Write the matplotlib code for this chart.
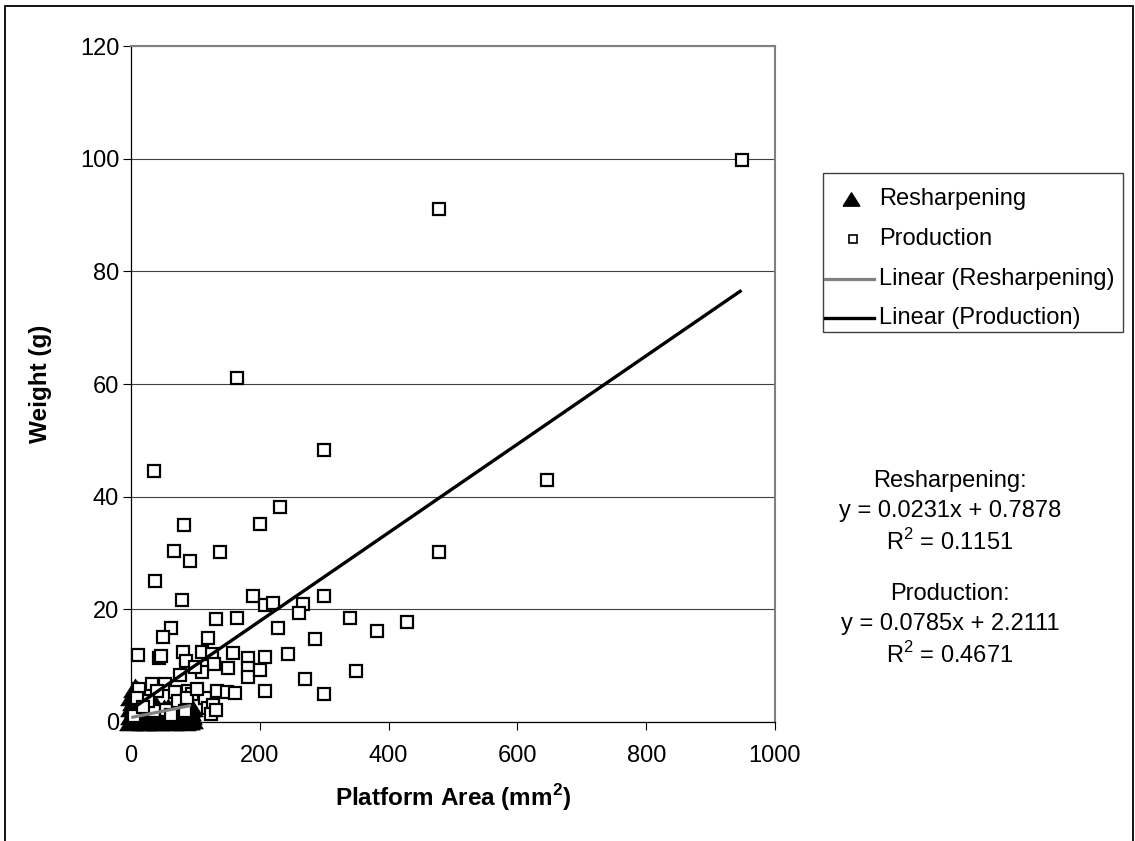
import matplotlib
matplotlib.use('Agg')
import matplotlib.pyplot as plt
import numpy as np
from matplotlib.patches import Rectangle
from matplotlib.lines import Line2D

plt.rcParams['font.family'] = ['Liberation Sans', 'DejaVu Sans']
plt.rcParams['mathtext.fontset'] = 'custom'
plt.rcParams['mathtext.rm'] = 'Liberation Sans'
plt.rcParams['mathtext.bf'] = 'Liberation Sans:bold'

# ---------------- data ----------------
prod_x = [948, 479, 164, 300, 35, 646, 232, 82, 200, 67, 138, 479, 91, 38, 79, 190,
          208, 221, 267, 261, 300, 132, 164, 340, 429, 62, 50, 229, 120, 285, 382,
          350, 270, 300, 11, 44, 46, 80, 111, 85, 126, 129, 159, 150, 182, 182, 182,
          208, 200, 244, 110, 100, 76, 32, 13, 53, 41, 68, 89, 94, 115, 133, 149,
          162, 208, 120, 128, 124, 35, 55, 27, 9, 73, 87, 102, 132, 5, 18, 62, 84]
prod_y = [99.7, 91.0, 61.0, 48.3, 44.6, 43.0, 38.2, 34.9, 35.1, 30.4, 30.1, 30.1, 28.5,
          25.1, 21.7, 22.4, 20.7, 21.1, 21.0, 19.4, 22.4, 18.2, 18.5, 18.5, 17.8, 16.7,
          15.1, 16.7, 15.0, 14.7, 16.1, 9.0, 7.6, 4.9, 11.9, 11.3, 11.7, 12.5, 12.5,
          10.9, 12.0, 10.3, 12.2, 9.5, 11.3, 9.6, 7.9, 11.6, 9.2, 12.0, 8.8, 9.7, 8.4,
          6.7, 5.9, 6.8, 5.5, 5.4, 5.5, 5.0, 4.2, 5.5, 5.4, 5.2, 5.5, 2.4, 3.1, 1.4,
          2.0, 2.2, 3.7, 4.3, 3.7, 4.3, 5.8, 2.2, 1.0, 2.6, 1.2, 2.0]

resh_x = [0.5, 1, 2, 3, 4, 5, 6, 7, 8, 9, 10, 11, 12, 13, 14, 15, 16, 18, 19, 20, 22,
          23, 25, 26, 28, 30, 31, 33, 35, 36, 38, 40, 42, 44, 45, 47, 49, 51, 53, 55,
          57, 59, 61, 63, 65, 67, 69, 71, 73, 75, 77, 80, 82, 84, 86, 89, 91, 93, 93, 88,
          2, 6, 9, 17, 21, 27, 34, 39, 46, 52, 58, 64, 70, 76, 81, 87, 90]
resh_y = [0.2, 1.2, 2.6, 0.5, 3.8, 1.6, 0.3, 5.0, 2.4, 0.9, 5.6, 0.3, 3.2, 1.5, 4.4,
          0.7, 2.6, 0.2, 1.4, 3.6, 0.6, 2.1, 1.1, 0.2, 2.8, 0.7, 1.7, 0.3, 2.4, 1.0,
          0.4, 1.6, 0.2, 2.0, 0.9, 0.4, 1.4, 2.3, 0.5, 1.1, 0.3, 1.8, 0.7, 0.2, 1.3,
          2.0, 0.5, 1.0, 0.3, 1.6, 0.6, 1.1, 0.2, 2.0, 0.8, 0.4, 1.3, 0.5, 2.6, 2.4,
          4.6, 6.0, 3.5, 3.0, 1.9, 1.5, 1.2, 2.9, 1.8, 0.9, 2.5, 0.6, 1.9, 0.9, 1.6, 0.3, 1.9]

resh_slope, resh_intercept, resh_r2 = 0.0231, 0.7878, 0.1151
prod_slope, prod_intercept, prod_r2 = 0.0785, 2.2111, 0.4671

x_ticks = [0, 200, 400, 600, 800, 1000]
y_ticks = [0, 20, 40, 60, 80, 100, 120]
series_names = ['Resharpening', 'Production', 'Linear (Resharpening)', 'Linear (Production)']

# ---------------- figure ----------------
W, H = 1135, 841
fig = plt.figure(figsize=(W / 100, H / 100), dpi=100)
fig.patch.set_facecolor('white')

def fx(px):
    return px / W

def fy(py):
    return 1 - py / H

ax = fig.add_axes([fx(131), fy(722), (775 - 131) / W, (722 - 46) / H])
ax.set_xlim(0, 1000)
ax.set_ylim(0, 120)
ax.set_xticks(x_ticks)
ax.set_yticks(y_ticks)
ax.set_xticklabels([str(t) for t in x_ticks])
ax.set_yticklabels([str(t) for t in y_ticks])

for s in ['top', 'right']:
    ax.spines[s].set_color('#808080')
    ax.spines[s].set_linewidth(1.5)
for s in ['left', 'bottom']:
    ax.spines[s].set_color('black')
    ax.spines[s].set_linewidth(0.9)

ax.yaxis.grid(True, color='#404040', linewidth=0.8)
ax.set_axisbelow(True)
ax.tick_params(axis='both', direction='out', length=5.5, width=0.8, labelsize=17,
               colors='black')
ax.tick_params(axis='x', pad=11)
ax.tick_params(axis='y', pad=3)

tri_marker = [(-1, -0.8), (1, -0.8), (0, 0.8), (-1, -0.8)]

ax.plot(resh_x, resh_y, linestyle='none', marker=tri_marker, markersize=17,
        markerfacecolor='black', markeredgecolor='black', markeredgewidth=0.5,
        clip_on=False, zorder=3)
ax.plot(prod_x, prod_y, linestyle='none', marker='s', markersize=8.3,
        markerfacecolor='white', markeredgecolor='black', markeredgewidth=1.6,
        clip_on=False, zorder=4)

rx = np.array([min(resh_x), max(resh_x)])
ax.plot(rx, resh_slope * rx + resh_intercept, color='#808080', linewidth=2.3,
        solid_capstyle='butt', zorder=5)
px_ = np.array([min(prod_x), max(prod_x)])
ax.plot(px_, prod_slope * px_ + prod_intercept, color='black', linewidth=2.4,
        solid_capstyle='butt', zorder=5)

# axis titles
fig.text(fx(40), fy(384), 'Weight (g)', rotation=90, ha='center', va='center',
         fontsize=17.5, fontweight='bold')
fig.text(fx(453), fy(798), r'Platform Area (mm$^{\mathbf{2}}$)', ha='center',
         va='center', fontsize=17.5, fontweight='bold')

# legend (manual)
fig.add_artist(Rectangle((fx(823), fy(332)), (1123 - 823) / W, (332 - 173) / H,
                         transform=fig.transFigure, fill=False,
                         edgecolor='#404040', linewidth=1.0))
rows = [199, 239, 279, 318]
fig.add_artist(Line2D([fx(851)], [fy(rows[0])], transform=fig.transFigure,
                      marker=tri_marker, markersize=12, color='black', linestyle='none'))
fig.add_artist(Line2D([fx(853)], [fy(rows[1])], transform=fig.transFigure,
                      marker='s', markersize=5.5, markerfacecolor='white',
                      markeredgecolor='black', markeredgewidth=1.2, linestyle='none'))
fig.add_artist(Line2D([fx(825), fx(874)], [fy(rows[2])] * 2, transform=fig.transFigure,
                      color='#808080', linewidth=2.3))
fig.add_artist(Line2D([fx(825), fx(874)], [fy(rows[3])] * 2, transform=fig.transFigure,
                      color='black', linewidth=2.4))
for r, name in zip(rows, series_names):
    fig.text(fx(879), fy(r), name, ha='left', va='center', fontsize=17)

# equations
eq_lines = [
    (481, 'Resharpening:'),
    (511, f'y = {resh_slope:.4f}x + {resh_intercept:.4f}'),
    (542, r'R$^{\mathregular{2}}$ = ' + f'{resh_r2:.4f}'),
    (594, 'Production:'),
    (624, f'y = {prod_slope:.4f}x + {prod_intercept:.4f}'),
    (655, r'R$^{\mathregular{2}}$ = ' + f'{prod_r2:.4f}'),
]
for py, t in eq_lines:
    fig.text(fx(950), fy(py), t, ha='center', va='center', fontsize=17)

# outer chart border
fig.add_artist(Rectangle((fx(5), -0.02), (1133 - 5) / W, 1 - 6 / H + 0.02,
                         transform=fig.transFigure, fill=False, edgecolor='black',
                         linewidth=1.3, clip_on=False))

fig.savefig('out.png', dpi=100)
